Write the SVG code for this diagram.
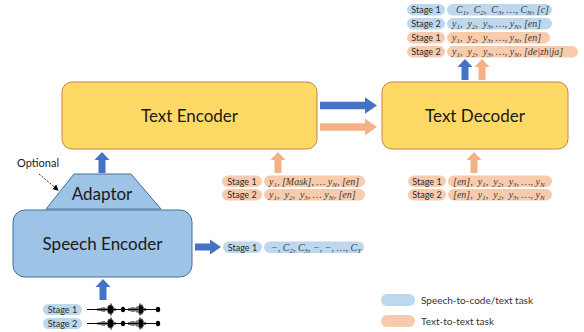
<svg xmlns="http://www.w3.org/2000/svg" xmlns:xlink="http://www.w3.org/1999/xlink" width="584" height="332" viewBox="0 0 584 332">
<style>
.bg{fill:#ffffff}
.ybox{fill:#ffd966;stroke:#c9853f;stroke-width:1}
.bbox{fill:#9dc3e6;stroke:#41719c;stroke-width:1}
.lbl{font-family:Lato,"Liberation Sans",sans-serif;font-size:17px;fill:#1a1a1a;text-anchor:middle}
.blu{fill:#bdd7ee}
.org{fill:#f8cbad}
.st{font-family:Lato,"Liberation Sans",sans-serif;font-size:9px;fill:#2b2b2b;text-anchor:middle}
.m{font-family:"Liberation Serif",serif;font-style:italic;font-size:10px;fill:#3c3c3c}
.s{font-size:7px}
.lg{font-family:Lato,"Liberation Sans",sans-serif;font-size:10px;fill:#333}
.opt{font-family:Lato,"Liberation Sans",sans-serif;font-size:11px;fill:#1a1a1a}
.ab{fill:#4472c4}
.ao{fill:#f4b183}
.wave{stroke:#000;stroke-width:1.1;fill:none}
</style>
<defs>
<path id="up" d="M0,0 L7.5,8 L3.5,8 L3.5,21 L-3.5,21 L-3.5,8 L-7.5,8 Z"/>
<path id="right" d="M0,0 L-12,-8.3 L-12,-3.8 L-57,-3.8 L-57,3.8 L-12,3.8 L-12,8.3 Z"/>
<path id="rightS" d="M0,0 L-11,-7.5 L-11,-3.5 L-26,-3.5 L-26,3.5 L-11,3.5 L-11,7.5 Z"/>
<marker id="mk" markerWidth="6" markerHeight="6" refX="5" refY="3" orient="auto" markerUnits="userSpaceOnUse">
<path d="M0,0 L6,3 L0,6 Z" fill="#000"/>
</marker>
<g id="wave">
<path class="wave" d="M87,309.5 H160 M98,308.3 V310.7 M100,308 V311 M102,307.5 V311.5 M104,307 V312 M106,308 V311 M108,306.5 V312.5 M109,305 V314 M110,305.5 V313.5 M111,303.5 V315.5 M112,305.5 V313.5 M113,306.5 V312.5 M115,308 V311 M129,308 V311 M131,307.5 V311.5 M133,307 V312 M135,307.5 V311.5 M137,306.5 V312.5 M139,305.5 V313.5 M140,303.5 V315.5 M141,305.5 V313.5 M142,304.5 V314.5 M143,306.5 V312.5 M145,308 V311"/>
<ellipse cx="123" cy="309.5" rx="2.2" ry="2.8" fill="#000"/>
<ellipse cx="158" cy="309.5" rx="2.2" ry="2.8" fill="#000"/>
</g>
</defs>
<rect class="bg" x="0" y="0" width="584" height="332"/>

<g id="connectors">
<use href="#up" class="ab" x="102" y="152"/>
<use href="#up" class="ao" x="278" y="152"/>
<use href="#up" class="ao" x="474" y="152"/>
<use href="#up" class="ab" x="465" y="59"/>
<use href="#up" class="ao" x="482" y="59"/>
<use href="#up" class="ab" x="103" y="279"/>
<use href="#right" class="ab" x="377" y="105.5"/>
<use href="#right" class="ao" x="377" y="127"/>
<use href="#rightS" class="ab" x="221" y="247"/>
<line x1="39" y1="174" x2="58" y2="190" stroke="#000" stroke-width="0.8" stroke-dasharray="2,1.5" marker-end="url(#mk)"/>
</g>

<g id="text-encoder">
<rect class="ybox" x="62" y="82" width="255" height="67" rx="10"/>
<text class="lbl" x="189.5" y="121.5">Text Encoder</text>
</g>

<g id="text-decoder">
<rect class="ybox" x="382" y="82" width="186" height="67" rx="10"/>
<text class="lbl" x="475" y="121.5">Text Decoder</text>
</g>

<g id="adaptor">
<polygon class="bbox" points="74,174 131,174 161,209 46,209"/>
<text class="lbl" x="102" y="200">Adaptor</text>
</g>

<g id="optional-label">
<text class="opt" x="17" y="167">Optional</text>
</g>

<g id="speech-encoder">
<rect class="bbox" x="13" y="210" width="179" height="67" rx="12"/>
<text class="lbl" x="102.5" y="250">Speech Encoder</text>
</g>

<g id="decoder-output">
<rect class="blu" x="407" y="4" width="38" height="11.5" rx="5.75"/>
<text class="st" x="426" y="13">Stage 1</text>
<rect class="blu" x="447" y="4" width="105" height="11.5" rx="5.75"/>
<text class="m" x="456" y="13">C<tspan class="s" dy="2">1</tspan><tspan dy="-2">,&#160;&#160;C</tspan><tspan class="s" dy="2">2</tspan><tspan dy="-2">,&#160;&#160;C</tspan><tspan class="s" dy="2">3</tspan><tspan dy="-2">, …, C</tspan><tspan class="s" dy="2">N</tspan><tspan dy="-2">, [c]</tspan></text>

<rect class="blu" x="407" y="18" width="38" height="11.5" rx="5.75"/>
<text class="st" x="426" y="27">Stage 2</text>
<rect class="blu" x="447" y="18" width="105" height="11.5" rx="5.75"/>
<text class="m" x="452" y="27">y<tspan class="s" dy="2">1</tspan><tspan dy="-2">,&#160;&#160;y</tspan><tspan class="s" dy="2">2</tspan><tspan dy="-2">,&#160;&#160;y</tspan><tspan class="s" dy="2">3</tspan><tspan dy="-2">, …, y</tspan><tspan class="s" dy="2">N</tspan><tspan dy="-2">, [en]</tspan></text>

<rect class="org" x="407" y="32" width="38" height="11.5" rx="5.75"/>
<text class="st" x="426" y="41">Stage 1</text>
<rect class="org" x="447" y="32" width="103" height="11.5" rx="5.75"/>
<text class="m" x="452" y="41">y<tspan class="s" dy="2">1</tspan><tspan dy="-2">,&#160;&#160;y</tspan><tspan class="s" dy="2">2</tspan><tspan dy="-2">,&#160;&#160;y</tspan><tspan class="s" dy="2">3</tspan><tspan dy="-2">, …, y</tspan><tspan class="s" dy="2">N</tspan><tspan dy="-2">, [en]</tspan></text>

<rect class="org" x="407" y="46" width="38" height="11.5" rx="5.75"/>
<text class="st" x="426" y="55">Stage 2</text>
<rect class="org" x="447" y="46" width="131" height="11.5" rx="5.75"/>
<text class="m" x="452" y="55">y<tspan class="s" dy="2">1</tspan><tspan dy="-2">,&#160;&#160;y</tspan><tspan class="s" dy="2">2</tspan><tspan dy="-2">,&#160;&#160;y</tspan><tspan class="s" dy="2">3</tspan><tspan dy="-2">, …, y</tspan><tspan class="s" dy="2">N</tspan><tspan dy="-2">, [de|zh|ja]</tspan></text>
</g>

<g id="encoder-input">
<rect class="org" x="222" y="175.5" width="40" height="11.5" rx="5.75"/>
<text class="st" x="242" y="184.5">Stage 1</text>
<rect class="org" x="264" y="175.5" width="101" height="11.5" rx="5.75"/>
<text class="m" x="269" y="184.5">y<tspan class="s" dy="2">1</tspan><tspan dy="-2">, [Mask], … y</tspan><tspan class="s" dy="2">N</tspan><tspan dy="-2">, [en]</tspan></text>

<rect class="org" x="222" y="189" width="40" height="11.5" rx="5.75"/>
<text class="st" x="242" y="198">Stage 2</text>
<rect class="org" x="264" y="189" width="101" height="11.5" rx="5.75"/>
<text class="m" x="269" y="198">y<tspan class="s" dy="2">1</tspan><tspan dy="-2">,&#160;&#160;y</tspan><tspan class="s" dy="2">2</tspan><tspan dy="-2">,&#160;&#160;y</tspan><tspan class="s" dy="2">3</tspan><tspan dy="-2">, … y</tspan><tspan class="s" dy="2">N</tspan><tspan dy="-2">, [en]</tspan></text>
</g>

<g id="decoder-input">
<rect class="org" x="408" y="175.5" width="38" height="11.5" rx="5.75"/>
<text class="st" x="427" y="184.5">Stage 1</text>
<rect class="org" x="448" y="175.5" width="104" height="11.5" rx="5.75"/>
<text class="m" x="453" y="184.5">[en],&#160;&#160;y<tspan class="s" dy="2">1</tspan><tspan dy="-2">,&#160;&#160;y</tspan><tspan class="s" dy="2">2</tspan><tspan dy="-2">,&#160;&#160;y</tspan><tspan class="s" dy="2">3</tspan><tspan dy="-2">, …, y</tspan><tspan class="s" dy="2">N</tspan></text>

<rect class="org" x="408" y="189" width="38" height="11.5" rx="5.75"/>
<text class="st" x="427" y="198">Stage 2</text>
<rect class="org" x="448" y="189" width="104" height="11.5" rx="5.75"/>
<text class="m" x="453" y="198">[en],&#160;&#160;y<tspan class="s" dy="2">1</tspan><tspan dy="-2">,&#160;&#160;y</tspan><tspan class="s" dy="2">2</tspan><tspan dy="-2">,&#160;&#160;y</tspan><tspan class="s" dy="2">3</tspan><tspan dy="-2">, …, y</tspan><tspan class="s" dy="2">N</tspan></text>
</g>

<g id="speech-output">
<rect class="blu" x="223" y="241.5" width="39" height="11.5" rx="5.75"/>
<text class="st" x="242.5" y="250.5">Stage 1</text>
<rect class="blu" x="264" y="241.5" width="100" height="11.5" rx="5.75"/>
<text class="m" x="271" y="250.5">−, C<tspan class="s" dy="2">2</tspan><tspan dy="-2">, C</tspan><tspan class="s" dy="2">3</tspan><tspan dy="-2">, −, −, …, C</tspan><tspan class="s" dy="2">T</tspan></text>
</g>

<g id="speech-input">
<rect class="blu" x="43" y="304" width="39" height="11" rx="5.5"/>
<text class="st" x="62.5" y="312.7">Stage 1</text>
<rect class="blu" x="43" y="318" width="39" height="11" rx="5.5"/>
<text class="st" x="62.5" y="326.7">Stage 2</text>
<use href="#wave"/>
<use href="#wave" y="14"/>
</g>

<g id="legend">
<rect class="blu" x="381" y="294" width="34" height="12" rx="6"/>
<text class="lg" x="421" y="303.5">Speech-to-code/text task</text>
<rect class="org" x="381" y="315" width="34" height="12" rx="6"/>
<text class="lg" x="421" y="324.5">Text-to-text task</text>
</g>
</svg>
